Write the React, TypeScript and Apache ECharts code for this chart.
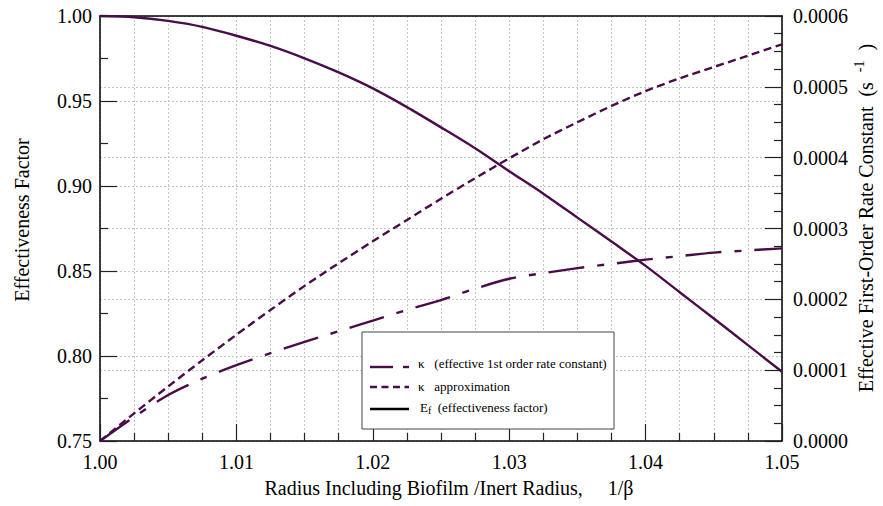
import React, { useEffect, useRef } from "react";
import * as echarts from "echarts";

const xValues = [
  1.0, 1.0025, 1.005, 1.0075, 1.01, 1.0125, 1.015, 1.0175, 1.02, 1.0225, 1.025,
  1.0275, 1.03, 1.0325, 1.035, 1.0375, 1.04, 1.0425, 1.045, 1.0475, 1.05,
];
const effectivenessFactor = [
  1.0, 0.9993, 0.9971, 0.9936, 0.9884, 0.9824, 0.9751, 0.9668, 0.9574, 0.9464,
  0.9345, 0.9222, 0.9087, 0.8955, 0.8814, 0.8673, 0.853, 0.8375, 0.8221, 0.8064,
  0.7907,
];
const kappaApprox = [
  0, 0.000039, 0.000077, 0.000114, 0.00015, 0.000185, 0.000219, 0.000251,
  0.000282, 0.000312, 0.000342, 0.000371, 0.000399, 0.000426, 0.00045, 0.000473,
  0.000494, 0.000512, 0.000528, 0.000544, 0.00056,
];
const kappaEffective = [
  0, 0.000034, 0.000065, 0.000088, 0.000107, 0.000124, 0.00014, 0.000155,
  0.00017, 0.000185, 0.000199, 0.000215, 0.000229, 0.000237, 0.000244, 0.00025,
  0.000256, 0.000261, 0.000266, 0.000269, 0.000272,
];

const FONT = "'Liberation Serif', 'Times New Roman', serif";
const LINE_COLOR = "#4a0c4a";
const GRID_STYLE = { color: "#c4c4c4", type: [2, 2] as number[], width: 1 };

export default function App() {
  const ref = useRef<HTMLDivElement>(null);
  useEffect(() => {
    if (!ref.current) return;
    const chart = echarts.init(ref.current, null, { renderer: "svg" });
    const pairs = (ys: number[]) => xValues.map((x, i) => [x, ys[i]]);
    const tickStyle = { color: "#222", width: 1.2 };
    const labelBase = { color: "#000", fontFamily: FONT, fontSize: 20 };

    const legendX = 370;
    chart.setOption({
      animation: false,
      grid: { left: 100, right: 101, top: 16, bottom: 65, containLabel: false },
      xAxis: [
        {
          type: "value",
          min: 1.0,
          max: 1.05,
          interval: 0.01,
          axisLine: { show: true, onZero: false, lineStyle: { color: "#000", width: 1.5 } },
          axisTick: { show: true, inside: true, length: 17, lineStyle: tickStyle },
          minorTick: { show: true, splitNumber: 4, length: 8, lineStyle: tickStyle },
          splitLine: { show: true, lineStyle: GRID_STYLE },
          minorSplitLine: { show: true, lineStyle: GRID_STYLE },
          axisLabel: { ...labelBase, margin: 11, formatter: (v: number) => v.toFixed(2) },
        },
        {
          type: "value",
          position: "top",
          min: 1.0,
          max: 1.05,
          axisLine: { show: true, onZero: false, lineStyle: { color: "#000", width: 1.5 } },
          axisTick: { show: false },
          axisLabel: { show: false },
          splitLine: { show: false },
        },
      ],
      yAxis: [
        {
          type: "value",
          min: 0.75,
          max: 1.0,
          interval: 0.05,
          axisLine: { show: true, onZero: false, lineStyle: { color: "#000", width: 1.5 } },
          axisTick: { show: true, inside: true, length: 17, lineStyle: tickStyle },
          minorTick: { show: true, splitNumber: 2, length: 8, lineStyle: tickStyle },
          splitLine: { show: true, lineStyle: GRID_STYLE },
          axisLabel: { ...labelBase, margin: 8, formatter: (v: number) => v.toFixed(2) },
        },
        {
          type: "value",
          position: "right",
          min: 0,
          max: 0.0006,
          interval: 0.0001,
          axisLine: { show: true, onZero: false, lineStyle: { color: "#000", width: 1.5 } },
          axisTick: { show: true, inside: true, length: 17, lineStyle: tickStyle },
          minorTick: { show: true, splitNumber: 4, length: 8, lineStyle: tickStyle },
          splitLine: { show: true, lineStyle: GRID_STYLE },
          axisLabel: { ...labelBase, margin: 11, formatter: (v: number) => v.toFixed(4) },
        },
      ],
      series: [
        {
          name: "κ (effective 1st order rate constant)",
          type: "line",
          yAxisIndex: 1,
          data: pairs(kappaEffective),
          smooth: 0.3,
          showSymbol: false,
          clip: false,
          lineStyle: { color: LINE_COLOR, width: 2.4, type: [36, 13, 7, 13] },
          z: 3,
        },
        {
          name: "κ approximation",
          type: "line",
          yAxisIndex: 1,
          data: pairs(kappaApprox),
          smooth: 0.3,
          showSymbol: false,
          clip: false,
          lineStyle: { color: LINE_COLOR, width: 2.4, type: [8, 4.5] },
          z: 3,
        },
        {
          name: "Ef (effectiveness factor)",
          type: "line",
          yAxisIndex: 0,
          data: pairs(effectivenessFactor),
          smooth: 0.3,
          showSymbol: false,
          clip: false,
          lineStyle: { color: LINE_COLOR, width: 2.4 },
          z: 4,
        },
      ],
      graphic: [
        {
          type: "text",
          x: 22,
          y: 220,
          rotation: Math.PI / 2,
          style: {
            text: "Effectiveness Factor",
            fill: "#000",
            font: `20px ${FONT}`,
            textAlign: "center",
            textVerticalAlign: "middle",
          },
        },
        {
          type: "text",
          x: 866,
          y: 218,
          rotation: Math.PI / 2,
          style: {
            text: "Effective First-Order Rate Constant  (s  {sup|-1}  )",
            fill: "#000",
            font: `20px ${FONT}`,
            textAlign: "center",
            textVerticalAlign: "middle",
            rich: {
              sup: { fontSize: 14, fontFamily: FONT, verticalAlign: "top", padding: [0, 0, 14, 0] },
            },
          },
        },
        {
          type: "text",
          x: 449,
          y: 488,
          style: {
            text: "Radius Including Biofilm /Inert Radius,     1/β",
            fill: "#000",
            font: `20px ${FONT}`,
            textAlign: "center",
            textVerticalAlign: "middle",
          },
        },
        {
          type: "rect",
          shape: { x: 362, y: 332, width: 252, height: 97 },
          style: { fill: "#fff", stroke: "#444", lineWidth: 1 },
          z: 10,
        },
        {
          type: "line",
          shape: { x1: legendX, y1: 367, x2: 393, y2: 367 },
          style: { stroke: LINE_COLOR, lineWidth: 2.4 },
          z: 11,
        },
        {
          type: "line",
          shape: { x1: 403, y1: 367, x2: 409, y2: 367 },
          style: { stroke: LINE_COLOR, lineWidth: 2.4 },
          z: 11,
        },
        {
          type: "line",
          shape: { x1: legendX, y1: 387, x2: 409, y2: 387 },
          style: { stroke: LINE_COLOR, lineWidth: 2.4, lineDash: [7, 4.5] },
          z: 11,
        },
        {
          type: "line",
          shape: { x1: legendX, y1: 409, x2: 409, y2: 409 },
          style: { stroke: "#000", lineWidth: 2.4 },
          z: 11,
        },
        {
          type: "text",
          x: 418,
          y: 363,
          style: {
            text: "κ   (effective 1st order rate constant)",
            fill: "#000",
            font: `13px ${FONT}`,
            textVerticalAlign: "middle",
          },
          z: 11,
        },
        {
          type: "text",
          x: 418,
          y: 386,
          style: {
            text: "κ   approximation",
            fill: "#000",
            font: `13px ${FONT}`,
            textVerticalAlign: "middle",
          },
          z: 11,
        },
        {
          type: "text",
          x: 420,
          y: 407,
          style: {
            text: "E{sub|f}  (effectiveness factor)",
            fill: "#000",
            font: `13px ${FONT}`,
            textVerticalAlign: "middle",
            rich: {
              sub: { fontSize: 10, fontFamily: FONT, padding: [6, 0, 0, 0] },
            },
          },
          z: 11,
        },
      ],
    });
    return () => chart.dispose();
  }, []);

  return (
    <div
      ref={ref}
      style={{ position: "fixed", left: 0, top: 0, width: 883, height: 506, background: "#fff" }}
    />
  );
}
